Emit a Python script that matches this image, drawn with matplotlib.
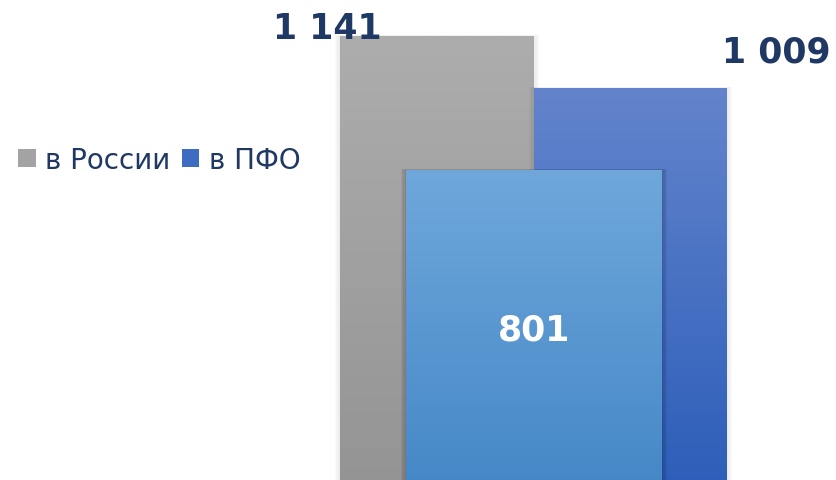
import numpy as np
import matplotlib.pyplot as plt
from matplotlib.colors import to_rgb
from matplotlib.patches import Patch, Rectangle

# data
series = ['в России', 'в ПФО', '']
values = [1141, 1009, 801]
value_labels = ['1 141', '1 009', '801']

# layout (pixel-like units on x)
x_centers = [437, 630.5, 534]
widths = [194, 193, 256]
top_colors = ['#adadad', '#6384cc', '#6fa7db']
bottom_colors = ['#949494', '#2d5eb9', '#4588c7']
shadow_alpha = [0.02, 0.02, 0.05]

navy = '#1f3864'

fig = plt.figure(figsize=(8.36, 4.81), dpi=100)
ax = fig.add_axes([0, 0, 1, 1])
ax.axis('off')


def grad_bar(xc, w, h, c_top, c_bot, z, sa):
    x0 = xc - w / 2
    # soft shadow
    for k in range(1, 5):
        sh = Rectangle((x0 - k * 1.3, 0), w + k * 2.6, h + k * 0.8,
                       facecolor='black', alpha=sa, edgecolor='none', zorder=z - 0.5)
        ax.add_patch(sh)
    rect = ax.bar(xc, h, width=w, color='none', edgecolor='none', zorder=z)[0]
    ct = np.array(to_rgb(c_top))
    cb = np.array(to_rgb(c_bot))
    t = np.linspace(0, 1, 256)[:, None]
    img = (ct[None, :] * (1 - t) + cb[None, :] * t)[:, None, :]
    im = ax.imshow(img, extent=(x0, x0 + w, 0, h), origin='upper', aspect='auto',
                   zorder=z, interpolation='bilinear')
    im.set_clip_path(rect)
    return rect


for i in range(3):
    grad_bar(x_centers[i], widths[i], values[i], top_colors[i], bottom_colors[i],
             2 + i * 2, shadow_alpha[i])

ax.set_xlim(0, 836)
ax.set_ylim(14, 1235)

# value labels
ax.text(327, values[0] - 5, value_labels[0], ha='center', va='baseline',
        fontsize=25, fontweight='bold', color=navy, zorder=10)
ax.text(776, values[1] + 68, value_labels[1], ha='center', va='baseline',
        fontsize=25, fontweight='bold', color=navy, zorder=10)
ax.text(534, 397, value_labels[2], ha='center', va='center',
        fontsize=25, fontweight='bold', color='white', zorder=10)

handles = [Patch(facecolor='#a3a3a3', edgecolor='none'),
           Patch(facecolor='#3f6cc3', edgecolor='none')]
fig.legend(handles, series[:2], loc='center left', bbox_to_anchor=(-0.008, 0.665),
           ncol=2, frameon=False, fontsize=20, labelcolor=navy,
           handlelength=0.62, handleheight=0.62, handletextpad=0.35, columnspacing=0.4)

fig.savefig('out.png', dpi=100)
